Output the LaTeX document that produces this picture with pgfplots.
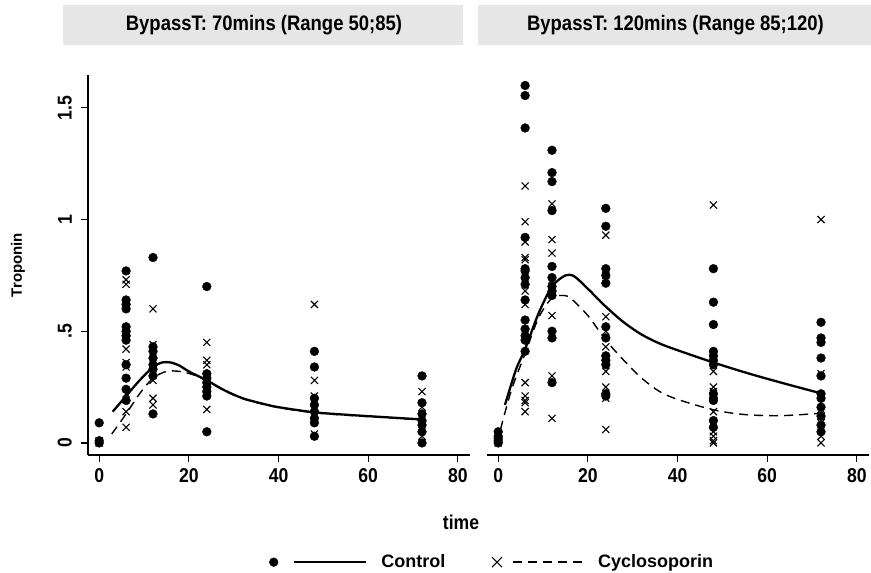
\documentclass[border=0pt]{standalone}
\usepackage{fontspec}
\setmainfont{Liberation Sans}
\newfontfamily\cond[FakeStretch=0.88]{Liberation Sans}
\usepackage{pgfplots}
\pgfplotsset{compat=1.18}
\definecolor{stripbg}{RGB}{230,230,230}
\newcommand\lbl{\cond\fontsize{20}{22}\selectfont\bfseries}

\pgfplotsset{
  panel/.style={
    scale only axis, width=382pt, height=380pt,
    xmin=-2.5, xmax=82.7, ymin=-0.054, ymax=1.647,
    axis x line=bottom, axis y line=left,
    axis line style={line width=1.2pt,-},
    tick align=outside, major tick length=7pt,
    every tick/.style={line width=1.2pt, black},
    xtick={0,20,40,60,80}, xticklabels={0,20,40,60,80},
    ytick={0,0.5,1,1.5}, yticklabels={0,.5,1,1.5},
    tick label style={font=\lbl},
    xticklabel style={yshift=-3pt},
    yticklabel style={rotate=90, anchor=south, inner ysep=9pt},
  },
  ctrl/.style={only marks, mark=*, mark size=4.4pt, black, forget plot},
  cyc/.style={only marks, mark=x, mark size=5pt, black, mark options={line width=1.1pt}, forget plot},
  ctrlfit/.style={no marks, smooth, line width=2.3pt, black, forget plot},
  cycfit/.style={no marks, smooth, line width=1.4pt, black, dash pattern=on 9pt off 6pt, forget plot},
}

\begin{document}
\begin{tikzpicture}[x=1pt, y=1pt]
\useasboundingbox (0,0) rectangle (871,573);

% strip titles
\fill[stripbg] (63,528) rectangle (463,568);
\fill[stripbg] (478,528) rectangle (871,568);
\node[font=\cond\fontsize{21}{23}\selectfont\bfseries] at (264,548) {BypassT: 70mins (Range 50;85)};
\node[font=\cond\fontsize{21}{23}\selectfont\bfseries] at (675.5,548) {BypassT: 120mins (Range 85;120)};

% left panel
\begin{axis}[panel, at={(88pt,118pt)}, anchor=south west,
  legend style={at={(1.058,-0.282)}, anchor=center, draw=none, fill=none,
    legend columns=2, font=\fontsize{18}{20}\selectfont\bfseries, legend cell align=left,
    /tikz/every even column/.append style={column sep=44pt}}]
\addlegendimage{legend image code/.code={
  \fill[black] (4.5pt,0pt) circle (4.4pt);
  \draw[line width=2.3pt] (25pt,0pt) -- (97pt,0pt);
  \path (110pt,0pt);}}
\addlegendentry{Control}
\addlegendimage{legend image code/.code={
  \draw[line width=1.1pt] (0pt,-5pt) -- (10pt,5pt) (0pt,5pt) -- (10pt,-5pt);
  \draw[line width=1.4pt, dash pattern=on 9pt off 6pt] (21pt,0pt) -- (95pt,0pt);
  \path (104pt,0pt);}}
\addlegendentry{Cyclosoporin}

\addplot[ctrl] coordinates {
  (0,0.09) (0,0.00) (0,0.01)
  (6,0.77) (6,0.64) (6,0.62) (6,0.60) (6,0.52) (6,0.50) (6,0.48) (6,0.46) (6,0.35) (6,0.29) (6,0.24) (6,0.19)
  (12,0.83) (12,0.43) (12,0.41) (12,0.38) (12,0.35) (12,0.33) (12,0.30) (12,0.13)
  (24,0.70) (24,0.31) (24,0.29) (24,0.27) (24,0.25) (24,0.23) (24,0.21) (24,0.05)
  (48,0.41) (48,0.34) (48,0.20) (48,0.17) (48,0.14) (48,0.11) (48,0.09) (48,0.03)
  (72,0.30) (72,0.18) (72,0.13) (72,0.10) (72,0.08) (72,0.05) (72,0.00)
};
\addplot[cyc] coordinates {
  (0,0.00) (0,0.01) (0,0.005)
  (6,0.73) (6,0.71) (6,0.42) (6,0.36) (6,0.34) (6,0.22) (6,0.14) (6,0.07)
  (12,0.60) (12,0.44) (12,0.36) (12,0.32) (12,0.28) (12,0.20) (12,0.17)
  (24,0.45) (24,0.37) (24,0.35) (24,0.30) (24,0.28) (24,0.26) (24,0.24) (24,0.22) (24,0.15)
  (48,0.62) (48,0.28) (48,0.21) (48,0.19) (48,0.16) (48,0.13) (48,0.10) (48,0.04)
  (72,0.23) (72,0.16) (72,0.12) (72,0.09) (72,0.06) (72,0.03)
};
\addplot[ctrlfit] coordinates {
  (3,0.14) (6,0.21) (9,0.28) (12,0.34) (14,0.36) (16,0.36) (18,0.345) (20,0.32)
  (24,0.28) (28,0.235) (32,0.20) (36,0.178) (40,0.16) (48,0.137) (56,0.125) (64,0.115) (72,0.105)
};
\addplot[cycfit] coordinates {
  (2.8,0.04) (6,0.13) (9,0.22) (12,0.29) (15,0.32) (18,0.32) (21,0.305) (24,0.278)
  (28,0.233) (32,0.198) (36,0.176) (40,0.158) (48,0.135) (56,0.123) (64,0.113) (72,0.103)
};
\end{axis}

% right panel
\begin{axis}[panel, at={(487pt,118pt)}, anchor=south west,
  axis y line=none, ytick=\empty]
\addplot[ctrl] coordinates {
  (0,0.05) (0,0.03) (0,0.02) (0,0.01) (0,0.00)
  (6,1.60) (6,1.555) (6,1.41) (6,0.92) (6,0.78) (6,0.77) (6,0.74) (6,0.71) (6,0.64) (6,0.55) (6,0.51) (6,0.48) (6,0.46) (6,0.41)
  (12,1.31) (12,1.21) (12,1.17) (12,1.04) (12,0.79) (12,0.74) (12,0.70) (12,0.68) (12,0.66) (12,0.50) (12,0.47) (12,0.27)
  (24,1.05) (24,0.97) (24,0.78) (24,0.75) (24,0.715) (24,0.52) (24,0.47) (24,0.39) (24,0.37) (24,0.35) (24,0.22) (24,0.21)
  (48,0.78) (48,0.63) (48,0.53) (48,0.41) (48,0.39) (48,0.37) (48,0.35) (48,0.22) (48,0.20) (48,0.19) (48,0.10) (48,0.07)
  (72,0.54) (72,0.47) (72,0.45) (72,0.38) (72,0.30) (72,0.22) (72,0.20) (72,0.16) (72,0.12) (72,0.08) (72,0.05)
};
\addplot[cyc] coordinates {
  (0,0.04) (0,0.02) (0,0.00)
  (6,1.15) (6,0.99) (6,0.90) (6,0.83) (6,0.82) (6,0.75) (6,0.68) (6,0.62) (6,0.27) (6,0.21) (6,0.19) (6,0.18) (6,0.14)
  (12,1.07) (12,0.91) (12,0.85) (12,0.73) (12,0.72) (12,0.57) (12,0.30) (12,0.11)
  (24,0.93) (24,0.75) (24,0.565) (24,0.50) (24,0.43) (24,0.32) (24,0.25) (24,0.20) (24,0.06)
  (48,1.065) (48,0.32) (48,0.25) (48,0.23) (48,0.14) (48,0.05) (48,0.03) (48,0.01) (48,0.00)
  (72,1.00) (72,0.31) (72,0.21) (72,0.18) (72,0.15) (72,0.12) (72,0.09) (72,0.06) (72,0.03) (72,0.00)
};
\addplot[ctrlfit] coordinates {
  (1.5,0.17) (4,0.33) (6,0.42) (9,0.58) (12,0.70) (15,0.75) (17,0.745) (20,0.69)
  (24,0.61) (28,0.54) (32,0.485) (36,0.445) (40,0.415) (48,0.36) (56,0.31) (64,0.265) (72,0.222)
};
\addplot[cycfit] coordinates {
  (0.5,0.06) (3,0.24) (6,0.40) (9,0.56) (12,0.65) (14,0.66) (16,0.65) (20,0.57)
  (24,0.46) (28,0.37) (32,0.29) (36,0.23) (40,0.195) (48,0.148) (55,0.127) (63,0.122) (72,0.133)
};
\end{axis}

\node[font=\lbl] at (461,51) {time};
\node[font=\fontsize{15}{17}\selectfont\bfseries, rotate=90] at (18,308) {Troponin};
\end{tikzpicture}
\end{document}
